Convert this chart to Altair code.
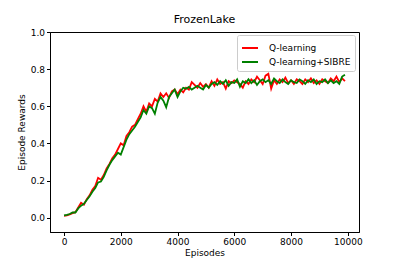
import altair as alt
import pandas as pd

episodes = list(range(0, 10000, 100))

q_learning = [
    0.010, 0.012, 0.018, 0.025, 0.030, 0.055, 0.080, 0.070, 0.100, 0.120,
    0.150, 0.170, 0.215, 0.205, 0.230, 0.265, 0.290, 0.320, 0.340, 0.370,
    0.400, 0.390, 0.440, 0.460, 0.490, 0.500, 0.530, 0.560, 0.600, 0.570,
    0.615, 0.600, 0.640, 0.625, 0.670, 0.650, 0.670, 0.645, 0.680, 0.690,
    0.665, 0.690, 0.675, 0.700, 0.690, 0.730, 0.715, 0.700, 0.725, 0.705,
    0.720, 0.700, 0.735, 0.710, 0.745, 0.720, 0.730, 0.695, 0.735, 0.725,
    0.740, 0.730, 0.720, 0.700, 0.735, 0.720, 0.745, 0.730, 0.760, 0.740,
    0.720, 0.765, 0.775, 0.695, 0.740, 0.720, 0.745, 0.730, 0.755, 0.725,
    0.740, 0.720, 0.745, 0.735, 0.720, 0.745, 0.730, 0.750, 0.725, 0.740,
    0.720, 0.745, 0.735, 0.725, 0.750, 0.735, 0.760, 0.730, 0.750, 0.735,
]

q_sibre = [
    0.012, 0.015, 0.020, 0.028, 0.028, 0.050, 0.065, 0.075, 0.095, 0.115,
    0.140, 0.160, 0.190, 0.195, 0.220, 0.255, 0.285, 0.310, 0.330, 0.350,
    0.340, 0.380, 0.420, 0.450, 0.470, 0.490, 0.515, 0.540, 0.580, 0.560,
    0.600, 0.590, 0.560, 0.620, 0.650, 0.630, 0.595, 0.650, 0.670, 0.690,
    0.650, 0.680, 0.700, 0.695, 0.705, 0.690, 0.700, 0.710, 0.700, 0.690,
    0.715, 0.700, 0.720, 0.730, 0.715, 0.735, 0.720, 0.740, 0.710, 0.730,
    0.725, 0.745, 0.705, 0.735, 0.725, 0.745, 0.725, 0.740, 0.715, 0.735,
    0.745, 0.730, 0.740, 0.720, 0.750, 0.735, 0.725, 0.745, 0.730, 0.720,
    0.740, 0.730, 0.725, 0.745, 0.735, 0.720, 0.740, 0.730, 0.745, 0.720,
    0.735, 0.730, 0.745, 0.725, 0.740, 0.725, 0.735, 0.720, 0.760, 0.770,
]

series_names = ["Q-learning", "Q-learning+SIBRE"]
series_colors = ["#ff0000", "#008000"]
x_ticks = [0, 2000, 4000, 6000, 8000, 10000]
y_ticks = [0.0, 0.2, 0.4, 0.6, 0.8, 1.0]

rows = []
for i, e in enumerate(episodes):
    rows.append({"Episodes": e, "Reward": q_learning[i], "Method": series_names[0], "o": 0})
for i, e in enumerate(episodes):
    rows.append({"Episodes": e, "Reward": q_sibre[i], "Method": series_names[1], "o": 1})
df = pd.DataFrame(rows)

font = "DejaVu Sans"

chart = alt.Chart(df).mark_line(strokeWidth=1.8, clip=True).encode(
    x=alt.X("Episodes:Q",
            scale=alt.Scale(domain=[-495, 10395], nice=False, zero=False),
            axis=alt.Axis(values=x_ticks, format="d", title="Episodes", grid=False,
                          tickSize=3.5, tickColor="black", domainColor="black",
                          labelFontSize=9, titleFontSize=9, labelFont=font, titleFont=font,
                          labelColor="black", titleColor="black", titleFontWeight="normal",
                          titlePadding=2, labelPadding=2, labelFlush=False)),
    y=alt.Y("Reward:Q",
            scale=alt.Scale(domain=[-0.077, 1.0], nice=False, zero=False),
            axis=alt.Axis(values=y_ticks, format=".1f", title="Episode Rewards", grid=False,
                          tickSize=3.5, tickColor="black", domainColor="black",
                          labelFontSize=9, titleFontSize=9, labelFont=font, titleFont=font,
                          labelColor="black", titleColor="black", titleFontWeight="normal",
                          titlePadding=4, labelPadding=2, labelFlush=False)),
    color=alt.Color("Method:N",
                    scale=alt.Scale(domain=series_names, range=series_colors),
                    legend=alt.Legend(title=None, orient="none", legendX=187, legendY=3,
                                      symbolType="stroke", symbolStrokeWidth=2, symbolSize=256,
                                      labelFontSize=9, labelFont=font, labelColor="black",
                                      strokeColor="#cccccc", padding=4, cornerRadius=2,
                                      fillColor="white", rowPadding=0, labelOffset=10)),
    order=alt.Order("o:Q"),
).properties(
    width=309, height=200,
    title=alt.TitleParams("FrozenLake", fontSize=11, font=font, fontWeight="normal",
                          color="black", offset=3),
    autosize=alt.AutoSizeParams(type="none"),
    padding={"left": 42, "top": 24, "right": 30, "bottom": 26},
).configure_view(stroke="black", strokeWidth=1)

chart.save("out.html", embed_options={"renderer": "svg", "actions": False})
